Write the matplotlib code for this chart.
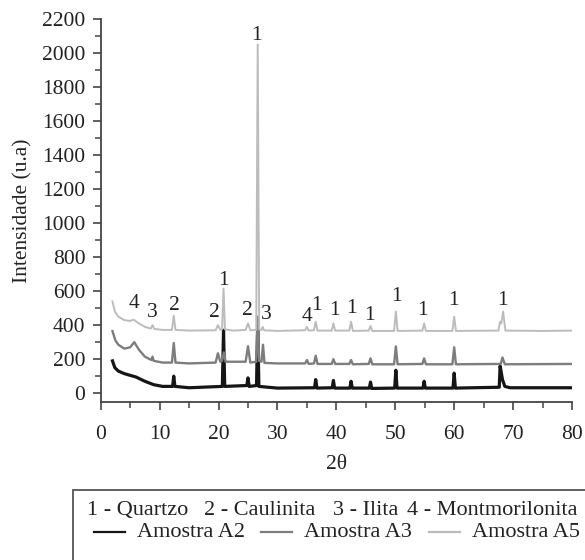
#!/usr/bin/env python3
"""DRX das amostras A2, A3 e A5."""

import matplotlib
matplotlib.use("Agg")
import matplotlib.pyplot as plt
from matplotlib.lines import Line2D
from matplotlib.patches import Rectangle
from matplotlib.ticker import MultipleLocator

plt.rcParams["font.family"] = ["Liberation Serif", "DejaVu Serif"]
plt.rcParams["font.size"] = 15.5

A2_X = [2.0, 2.4, 3.0, 4.0, 5.0, 6.0, 7.5, 9.0, 10.5, 12.2, 12.4, 12.6, 15.0, 20.65, 20.85, 21.05,
        24.8, 25.0, 25.2, 26.45, 26.65, 26.85, 30.0, 36.3, 36.5, 36.7, 39.3, 39.5, 39.7, 42.3, 42.5,
        42.7, 45.6, 45.8, 46.0, 49.9, 50.1, 50.3, 54.7, 54.9, 55.1, 59.8, 60.0, 60.2, 67.65, 67.8,
        68.2, 68.6, 69.5, 80.0]
A2_Y = [190, 150, 130, 115, 105, 95, 70, 50, 40, 40, 100, 40, 32, 40, 370, 40,
        45, 90, 40, 45, 420, 40, 30, 32, 80, 30, 32, 75, 30, 30, 70,
        30, 30, 65, 28, 30, 135, 30, 30, 70, 30, 30, 118, 30, 35, 160,
        80, 40, 32, 32]

A3_X = [2.0, 2.5, 3.0, 4.0, 5.0, 5.7, 6.5, 7.5, 8.6, 8.8, 9.0, 10.5, 12.1, 12.4, 12.7, 15.0,
        19.5, 19.9, 20.3, 20.6, 20.9, 21.2, 24.6, 25.0, 25.4, 26.4, 26.65, 26.9, 27.3, 27.55, 27.8,
        30.0, 34.7, 35.0, 35.3, 36.2, 36.5, 36.8, 39.2, 39.5, 39.8, 42.2, 42.5, 42.8, 45.5, 45.8,
        46.1, 49.8, 50.1, 50.4, 54.6, 54.9, 55.2, 59.7, 60.0, 60.3, 67.9, 68.2, 68.6, 80.0]
A3_Y = [365, 310, 285, 262, 270, 300, 255, 215, 195, 215, 190, 180, 180, 295, 180, 175,
        180, 235, 185, 190, 240, 185, 185, 276, 180, 185, 450, 190, 185, 285, 178,
        175, 175, 195, 172, 175, 220, 172, 172, 200, 172, 172, 195, 170, 172, 205,
        170, 170, 275, 170, 172, 205, 170, 170, 270, 170, 172, 210, 170, 172]

A5_X = [2.0, 2.4, 3.0, 4.0, 5.0, 5.6, 6.5, 7.5, 8.5, 8.8, 9.1, 10.5, 12.1, 12.4, 12.7, 15.0,
        19.5, 19.9, 20.3, 20.6, 20.85, 21.1, 22.5, 24.6, 25.0, 25.4, 26.4, 26.65, 26.9, 27.3, 27.5,
        27.7, 30.0, 34.7, 35.0, 35.3, 36.2, 36.5, 36.8, 39.2, 39.5, 39.8, 42.2, 42.5, 42.8, 45.5,
        45.8, 46.1, 49.8, 50.1, 50.4, 54.6, 54.9, 55.2, 59.7, 60.0, 60.3, 67.5, 67.8, 68.0, 68.3,
        68.7, 75.0, 80.0]
A5_Y = [540, 480, 450, 430, 425, 432, 410, 390, 380, 400, 378, 372, 372, 455, 372, 368,
        370, 400, 372, 375, 615, 375, 368, 372, 410, 370, 372, 2050, 375, 372, 390,
        370, 366, 370, 390, 368, 370, 420, 368, 368, 410, 368, 368, 420, 366, 368,
        395, 366, 366, 480, 366, 368, 410, 366, 366, 450, 366, 368, 420, 410, 480,
        368, 366, 368]

# rotulos das fases: 1 quartzo, 2 caulinita, 3 ilita, 4 montmorilonita
PEAK_TXT = ["4", "3", "2", "2", "1", "2", "1", "3", "4", "1", "1", "1", "1", "1", "1", "1", "1"]
PEAK_X = [5.65, 8.8, 12.5, 19.3, 20.8, 24.95, 26.5, 28.1, 35.1, 36.55, 39.6, 42.5, 45.7,
          50.25, 54.7, 59.8, 68.25]
PEAK_Y = [527, 472, 517, 472, 664, 488, 2105, 464, 453, 517, 484, 498, 459,
          566, 484, 547, 547]

FASES = ["1 - Quartzo", "2 - Caulinita", "3 - Ilita", "4 - Montmorilonita"]
AMOSTRAS = ["Amostra A2", "Amostra A3", "Amostra A5"]
CORES = ["#151515", "#7d7d7d", "#bcbcbc"]
LARGURAS = [2.3, 1.7, 1.4]

W, H = 585, 560
fig = plt.figure(figsize=(W / 100, H / 100), dpi=100)
ax = fig.add_axes([100.7 / W, 1 - 401.7 / H, 471.3 / W, 382.7 / H])

for xs, ys, c, lw in zip([A2_X, A3_X, A5_X], [A2_Y, A3_Y, A5_Y], CORES, LARGURAS):
    ax.plot(xs, ys, color=c, lw=lw)

for t, x, y in zip(PEAK_TXT, PEAK_X, PEAK_Y):
    ax.text(x, y, t, ha="center", va="center", color="#222222")

ax.set_xlim(0, 80)
ax.set_ylim(-50, 2200)
ax.xaxis.set_major_locator(MultipleLocator(10))
ax.xaxis.set_minor_locator(MultipleLocator(5))
ax.yaxis.set_major_locator(MultipleLocator(200))
ax.yaxis.set_minor_locator(MultipleLocator(100))
for s in ["top", "right"]:
    ax.spines[s].set_visible(False)
for s in ["left", "bottom"]:
    ax.spines[s].set_color("#444444")
    ax.spines[s].set_linewidth(1.3)
ax.tick_params(which="major", direction="out", length=6, width=1.2, color="#444444",
               labelcolor="#222222")
ax.tick_params(which="minor", direction="out", length=4, width=1.1, color="#444444")
ax.tick_params(axis="x", which="major", pad=11)
ax.tick_params(axis="y", which="major", pad=5)

ax.set_xlabel("2θ", color="#222222", labelpad=8)
ax.set_ylabel("Intensidade (u.a)", color="#222222")
ax.yaxis.set_label_coords(-0.145, 0.5)

# caixa da legenda (cortada na borda da figura)
fig.add_artist(Rectangle((73 / W, -0.05), 1.0, 1 - 490 / H + 0.05, transform=fig.transFigure,
                         fill=False, edgecolor="#555555", lw=1.3))
for txt, px in zip(FASES, [87, 204, 333, 407]):
    fig.text(px / W, 1 - 510.7 / H, txt, ha="left", va="center", color="#222222", fontsize=16)
for txt, c, lx, tx in zip(AMOSTRAS, CORES, [94, 261, 429], [137, 304, 472]):
    fig.add_artist(Line2D([lx / W, (lx + 31) / W], [1 - 532 / H] * 2, color=c, lw=1.6,
                          transform=fig.transFigure))
    fig.text(tx / W, 1 - 532.7 / H, txt, ha="left", va="center", color="#222222", fontsize=16)

fig.savefig("out.png", dpi=100)
